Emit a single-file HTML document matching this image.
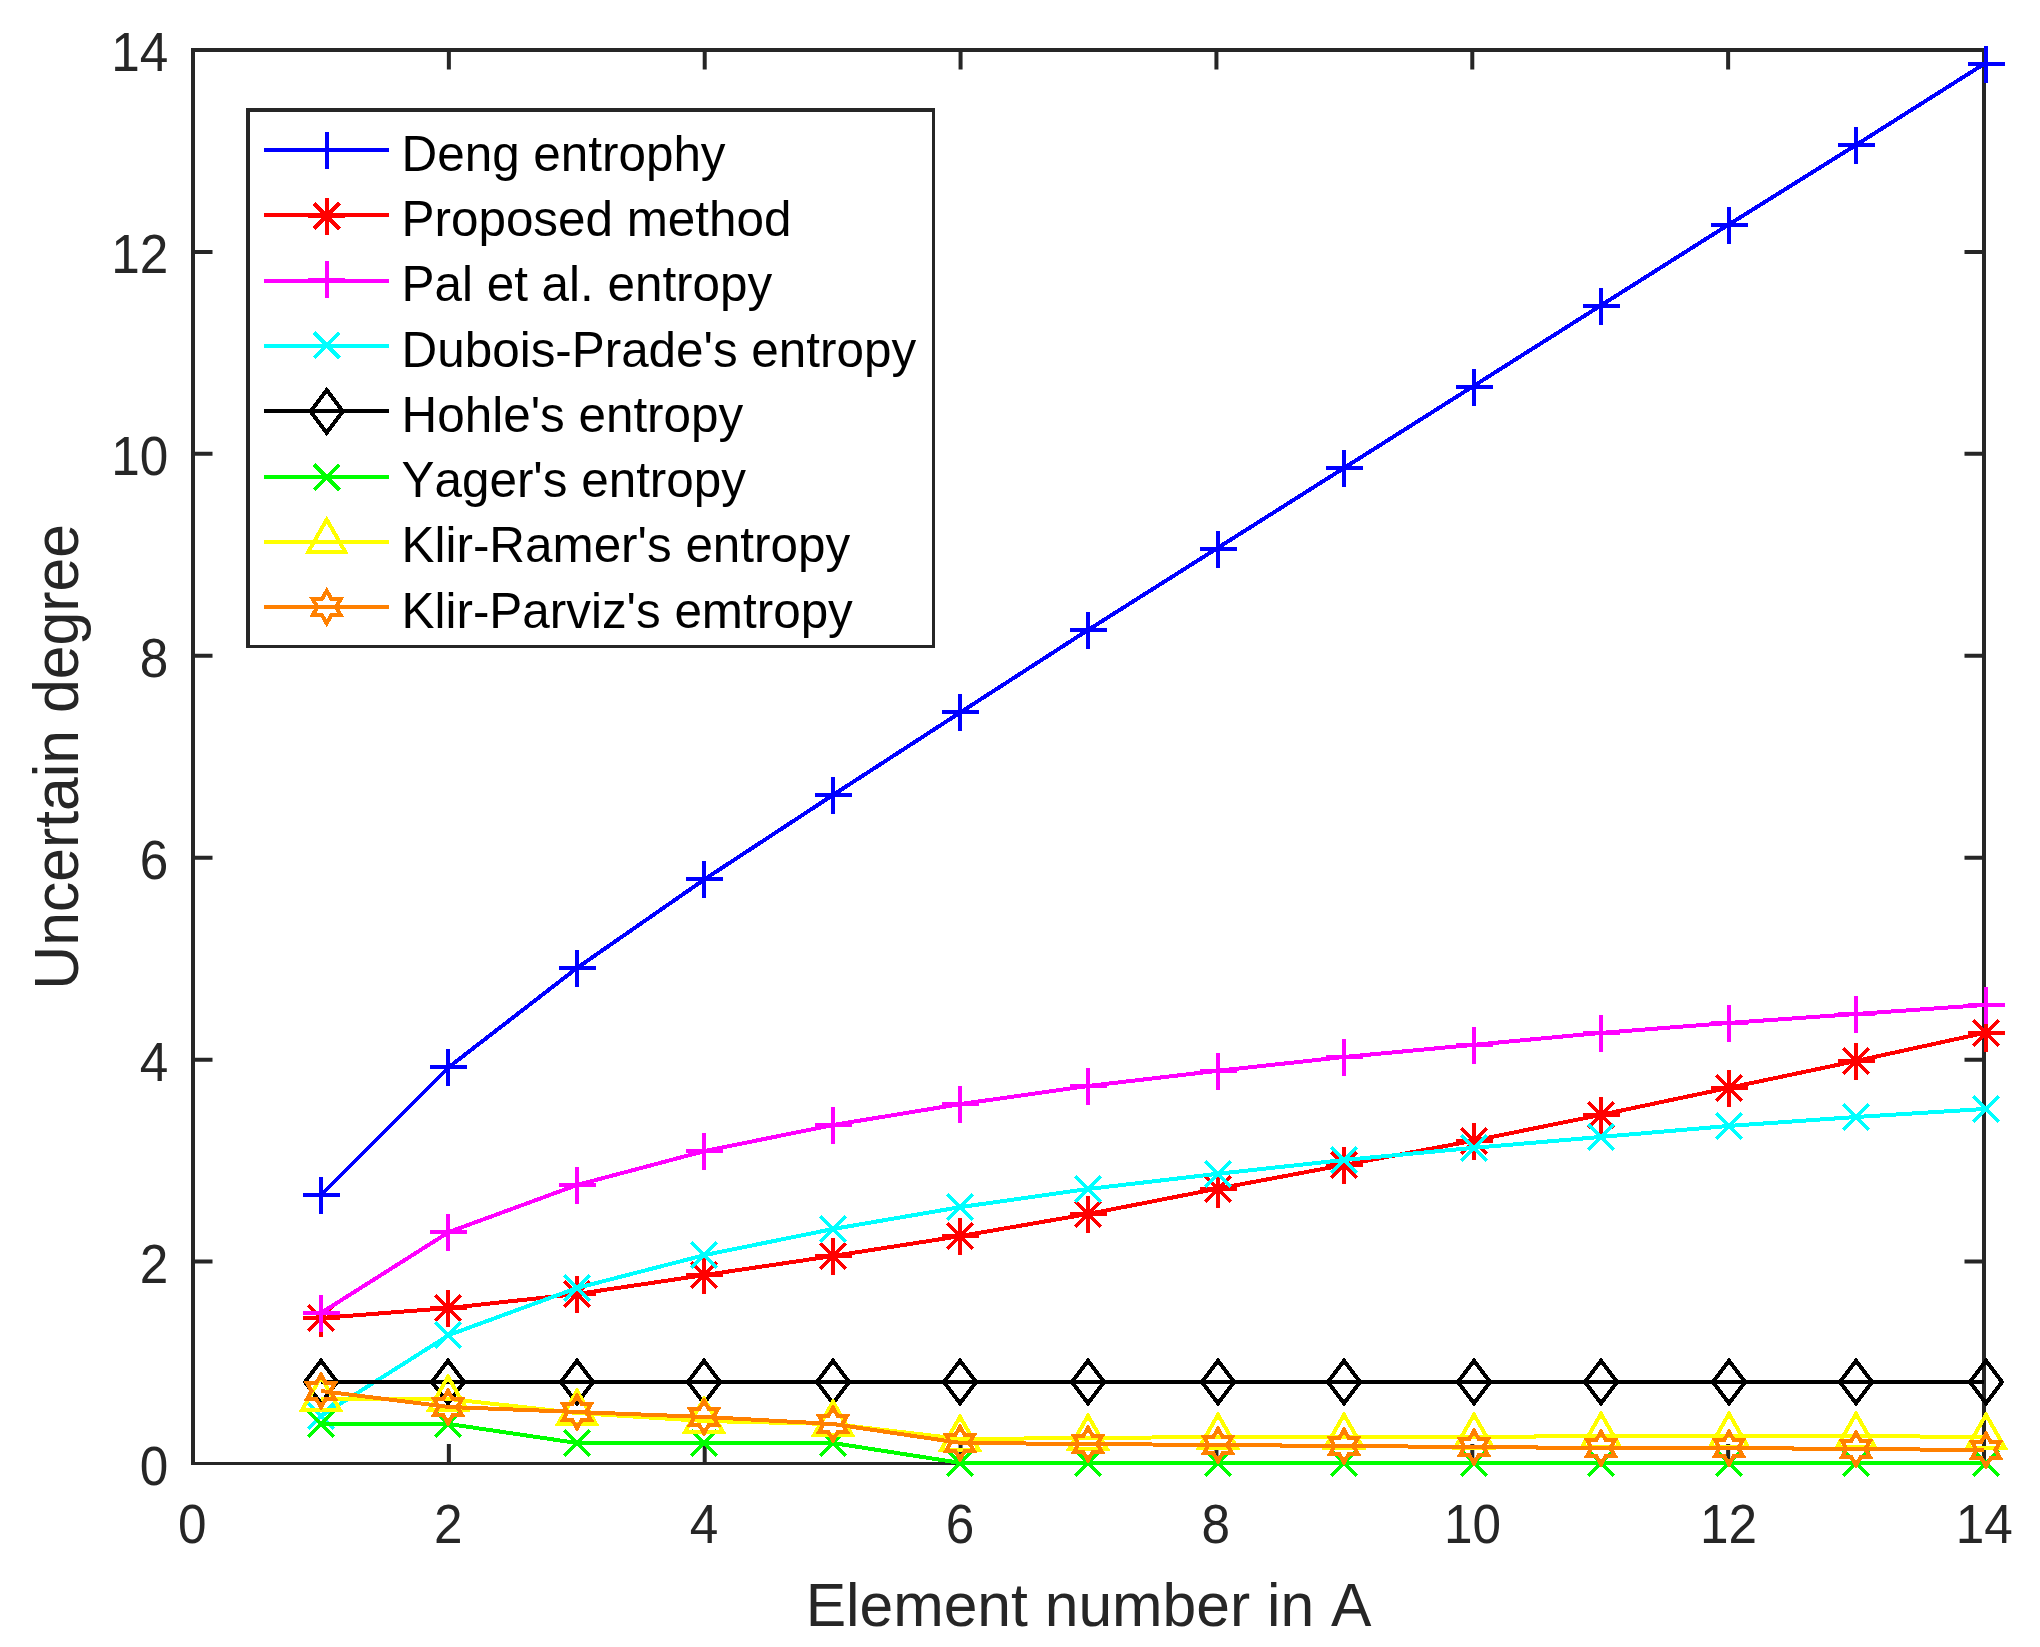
<!DOCTYPE html>
<html><head><meta charset="utf-8"><title>Uncertain degree vs element number in A</title>
<style>
html,body{margin:0;padding:0;background:#fff}
body{width:2040px;height:1647px;overflow:hidden}
svg{display:block}
text{font-family:"Liberation Sans",Arial,Helvetica,sans-serif;font-kerning:none;font-feature-settings:"kern" 0}
.tk{font-size:54px;fill:#262626}
.lb{font-size:61px;fill:#262626}
.lg{font-size:49.4px;fill:#000}
</style></head><body>
<svg width="2040" height="1647" viewBox="0 0 2040 1647">
<rect width="2040" height="1647" fill="#fff"/>
<g fill="none" stroke="#262626" stroke-width="4" stroke-linecap="butt">
<path d="M193.0 48.0V1465M1984.0 48.0V1465M191.0 50.0H1986.0"/>
<path d="M191.0 1463.5H1986.0" stroke-width="3"/>
<path d="M448.86 1463.5v-19.5M448.86 50.0v19.5M193.0 1261.57h19.5M1984.0 1261.57h-19.5M704.71 1463.5v-19.5M704.71 50.0v19.5M193.0 1059.64h19.5M1984.0 1059.64h-19.5M960.57 1463.5v-19.5M960.57 50.0v19.5M193.0 857.71h19.5M1984.0 857.71h-19.5M1216.43 1463.5v-19.5M1216.43 50.0v19.5M193.0 655.79h19.5M1984.0 655.79h-19.5M1472.29 1463.5v-19.5M1472.29 50.0v19.5M193.0 453.86h19.5M1984.0 453.86h-19.5M1728.14 1463.5v-19.5M1728.14 50.0v19.5M193.0 251.93h19.5M1984.0 251.93h-19.5"/>
</g>
<g class="tk" text-anchor="middle">
<text transform="translate(192.3 1542.5) scale(0.95 1.03)">0</text>
<text transform="translate(448.2 1542.5) scale(0.95 1.03)">2</text>
<text transform="translate(704.0 1542.5) scale(0.95 1.03)">4</text>
<text transform="translate(959.9 1542.5) scale(0.95 1.03)">6</text>
<text transform="translate(1215.7 1542.5) scale(0.95 1.03)">8</text>
<text transform="translate(1472.6 1542.5) scale(0.95 1.03)">10</text>
<text transform="translate(1728.4 1542.5) scale(0.95 1.03)">12</text>
<text transform="translate(1984.3 1542.5) scale(0.95 1.03)">14</text>
</g>
<g class="tk" text-anchor="end">
<text transform="translate(168.2 1484.7) scale(0.95 1.03)">0</text>
<text transform="translate(168.2 1282.8) scale(0.95 1.03)">2</text>
<text transform="translate(168.2 1080.8) scale(0.95 1.03)">4</text>
<text transform="translate(168.2 878.9) scale(0.95 1.03)">6</text>
<text transform="translate(168.2 677.0) scale(0.95 1.03)">8</text>
<text transform="translate(168.2 475.1) scale(0.95 1.03)">10</text>
<text transform="translate(168.2 273.1) scale(0.95 1.03)">12</text>
<text transform="translate(168.2 71.2) scale(0.95 1.03)">14</text>
</g>
<text class="lb" style="font-size:60.6px" text-anchor="middle" transform="translate(1088.5 1626.2) scale(1 1.02)">Element number in A</text>
<text class="lb" text-anchor="middle" style="font-size:60.7px" transform="translate(78.4 756.9) rotate(-90) scale(1 1.025)">Uncertain degree</text>
<g fill="none" stroke-width="4.0" stroke-linejoin="miter" stroke-miterlimit="10" shape-rendering="crispEdges">
<polyline stroke="#0000ff" stroke-linejoin="round" points="321.00,1195.00 449.00,1067.00 577.00,968.00 705.00,879.00 833.00,795.00 961.00,712.00 1088.00,630.00 1216.00,549.00 1344.00,468.00 1472.00,387.00 1600.00,306.00 1728.00,225.00 1856.00,145.00 1984.00,64.00"/>
<path d="M302.50 1195.00H339.50M321.00 1176.50V1213.50" stroke="#0000ff"/>
<path d="M429.50 1067.00H466.50M448.00 1048.50V1085.50" stroke="#0000ff"/>
<path d="M558.50 968.00H595.50M577.00 949.50V986.50" stroke="#0000ff"/>
<path d="M685.50 879.00H722.50M704.00 860.50V897.50" stroke="#0000ff"/>
<path d="M814.50 795.00H851.50M833.00 776.50V813.50" stroke="#0000ff"/>
<path d="M941.50 712.00H978.50M960.00 693.50V730.50" stroke="#0000ff"/>
<path d="M1069.50 630.00H1106.50M1088.00 611.50V648.50" stroke="#0000ff"/>
<path d="M1199.50 549.00H1236.50M1218.00 530.50V567.50" stroke="#0000ff"/>
<path d="M1325.50 468.00H1362.50M1344.00 449.50V486.50" stroke="#0000ff"/>
<path d="M1455.50 387.00H1492.50M1474.00 368.50V405.50" stroke="#0000ff"/>
<path d="M1582.50 306.00H1619.50M1601.00 287.50V324.50" stroke="#0000ff"/>
<path d="M1710.50 225.00H1747.50M1729.00 206.50V243.50" stroke="#0000ff"/>
<path d="M1837.50 145.00H1874.50M1856.00 126.50V163.50" stroke="#0000ff"/>
<path d="M1967.50 64.00H2004.50M1986.00 45.50V82.50" stroke="#0000ff"/>
</g>
<g fill="none" stroke-width="4.0" stroke-linejoin="miter" stroke-miterlimit="10" shape-rendering="crispEdges">
<polyline stroke="#ff0000" stroke-linejoin="round" points="321.00,1318.00 449.00,1308.00 577.00,1294.00 705.00,1275.00 833.00,1256.00 961.00,1236.00 1088.00,1214.00 1216.00,1189.00 1344.00,1165.00 1472.00,1141.00 1600.00,1115.00 1728.00,1088.00 1856.00,1061.00 1984.00,1033.00"/>
<path d="M302.50 1318.00H339.50M321.00 1299.50V1336.50M308.30 1305.30L333.70 1330.70M308.30 1330.70L333.70 1305.30" stroke="#ff0000"/>
<path d="M429.50 1308.00H466.50M448.00 1289.50V1326.50M435.30 1295.30L460.70 1320.70M435.30 1320.70L460.70 1295.30" stroke="#ff0000"/>
<path d="M558.50 1294.00H595.50M577.00 1275.50V1312.50M564.30 1281.30L589.70 1306.70M564.30 1306.70L589.70 1281.30" stroke="#ff0000"/>
<path d="M685.50 1275.00H722.50M704.00 1256.50V1293.50M691.30 1262.30L716.70 1287.70M691.30 1287.70L716.70 1262.30" stroke="#ff0000"/>
<path d="M814.50 1256.00H851.50M833.00 1237.50V1274.50M820.30 1243.30L845.70 1268.70M820.30 1268.70L845.70 1243.30" stroke="#ff0000"/>
<path d="M941.50 1236.00H978.50M960.00 1217.50V1254.50M947.30 1223.30L972.70 1248.70M947.30 1248.70L972.70 1223.30" stroke="#ff0000"/>
<path d="M1069.50 1214.00H1106.50M1088.00 1195.50V1232.50M1075.30 1201.30L1100.70 1226.70M1075.30 1226.70L1100.70 1201.30" stroke="#ff0000"/>
<path d="M1199.50 1189.00H1236.50M1218.00 1170.50V1207.50M1205.30 1176.30L1230.70 1201.70M1205.30 1201.70L1230.70 1176.30" stroke="#ff0000"/>
<path d="M1325.50 1165.00H1362.50M1344.00 1146.50V1183.50M1331.30 1152.30L1356.70 1177.70M1331.30 1177.70L1356.70 1152.30" stroke="#ff0000"/>
<path d="M1455.50 1141.00H1492.50M1474.00 1122.50V1159.50M1461.30 1128.30L1486.70 1153.70M1461.30 1153.70L1486.70 1128.30" stroke="#ff0000"/>
<path d="M1582.50 1115.00H1619.50M1601.00 1096.50V1133.50M1588.30 1102.30L1613.70 1127.70M1588.30 1127.70L1613.70 1102.30" stroke="#ff0000"/>
<path d="M1710.50 1088.00H1747.50M1729.00 1069.50V1106.50M1716.30 1075.30L1741.70 1100.70M1716.30 1100.70L1741.70 1075.30" stroke="#ff0000"/>
<path d="M1837.50 1061.00H1874.50M1856.00 1042.50V1079.50M1843.30 1048.30L1868.70 1073.70M1843.30 1073.70L1868.70 1048.30" stroke="#ff0000"/>
<path d="M1967.50 1033.00H2004.50M1986.00 1014.50V1051.50M1973.30 1020.30L1998.70 1045.70M1973.30 1045.70L1998.70 1020.30" stroke="#ff0000"/>
</g>
<g fill="none" stroke-width="4.0" stroke-linejoin="miter" stroke-miterlimit="10" shape-rendering="crispEdges">
<polyline stroke="#ff00ff" stroke-linejoin="round" points="321.00,1313.00 449.00,1232.00 577.00,1185.00 705.00,1151.00 833.00,1125.00 961.00,1104.00 1088.00,1086.00 1216.00,1071.00 1344.00,1057.00 1472.00,1045.00 1600.00,1033.00 1728.00,1023.00 1856.00,1014.00 1984.00,1005.00"/>
<path d="M302.50 1313.00H339.50M321.00 1294.50V1331.50" stroke="#ff00ff"/>
<path d="M429.50 1232.00H466.50M448.00 1213.50V1250.50" stroke="#ff00ff"/>
<path d="M558.50 1185.00H595.50M577.00 1166.50V1203.50" stroke="#ff00ff"/>
<path d="M685.50 1151.00H722.50M704.00 1132.50V1169.50" stroke="#ff00ff"/>
<path d="M814.50 1125.00H851.50M833.00 1106.50V1143.50" stroke="#ff00ff"/>
<path d="M941.50 1104.00H978.50M960.00 1085.50V1122.50" stroke="#ff00ff"/>
<path d="M1069.50 1086.00H1106.50M1088.00 1067.50V1104.50" stroke="#ff00ff"/>
<path d="M1199.50 1071.00H1236.50M1218.00 1052.50V1089.50" stroke="#ff00ff"/>
<path d="M1325.50 1057.00H1362.50M1344.00 1038.50V1075.50" stroke="#ff00ff"/>
<path d="M1455.50 1045.00H1492.50M1474.00 1026.50V1063.50" stroke="#ff00ff"/>
<path d="M1582.50 1033.00H1619.50M1601.00 1014.50V1051.50" stroke="#ff00ff"/>
<path d="M1710.50 1023.00H1747.50M1729.00 1004.50V1041.50" stroke="#ff00ff"/>
<path d="M1837.50 1014.00H1874.50M1856.00 995.50V1032.50" stroke="#ff00ff"/>
<path d="M1967.50 1005.00H2004.50M1986.00 986.50V1023.50" stroke="#ff00ff"/>
</g>
<g fill="none" stroke-width="4.0" stroke-linejoin="miter" stroke-miterlimit="10" shape-rendering="crispEdges">
<polyline stroke="#00ffff" stroke-linejoin="round" points="321.00,1416.00 449.00,1335.00 577.00,1288.00 705.00,1255.00 833.00,1229.00 961.00,1207.00 1088.00,1189.00 1216.00,1174.00 1344.00,1160.00 1472.00,1148.00 1600.00,1137.00 1728.00,1126.00 1856.00,1117.00 1984.00,1109.00"/>
<path d="M308.30 1403.30L333.70 1428.70M308.30 1428.70L333.70 1403.30" stroke="#00ffff"/>
<path d="M435.30 1322.30L460.70 1347.70M435.30 1347.70L460.70 1322.30" stroke="#00ffff"/>
<path d="M564.30 1275.30L589.70 1300.70M564.30 1300.70L589.70 1275.30" stroke="#00ffff"/>
<path d="M691.30 1242.30L716.70 1267.70M691.30 1267.70L716.70 1242.30" stroke="#00ffff"/>
<path d="M820.30 1216.30L845.70 1241.70M820.30 1241.70L845.70 1216.30" stroke="#00ffff"/>
<path d="M947.30 1194.30L972.70 1219.70M947.30 1219.70L972.70 1194.30" stroke="#00ffff"/>
<path d="M1075.30 1176.30L1100.70 1201.70M1075.30 1201.70L1100.70 1176.30" stroke="#00ffff"/>
<path d="M1205.30 1161.30L1230.70 1186.70M1205.30 1186.70L1230.70 1161.30" stroke="#00ffff"/>
<path d="M1331.30 1147.30L1356.70 1172.70M1331.30 1172.70L1356.70 1147.30" stroke="#00ffff"/>
<path d="M1461.30 1135.30L1486.70 1160.70M1461.30 1160.70L1486.70 1135.30" stroke="#00ffff"/>
<path d="M1588.30 1124.30L1613.70 1149.70M1588.30 1149.70L1613.70 1124.30" stroke="#00ffff"/>
<path d="M1716.30 1113.30L1741.70 1138.70M1716.30 1138.70L1741.70 1113.30" stroke="#00ffff"/>
<path d="M1843.30 1104.30L1868.70 1129.70M1843.30 1129.70L1868.70 1104.30" stroke="#00ffff"/>
<path d="M1973.30 1096.30L1998.70 1121.70M1973.30 1121.70L1998.70 1096.30" stroke="#00ffff"/>
</g>
<g fill="none" stroke-width="4.0" stroke-linejoin="miter" stroke-miterlimit="10" shape-rendering="crispEdges">
<polyline stroke="#000000" stroke-linejoin="round" points="321.00,1382.00 449.00,1382.00 577.00,1382.00 705.00,1382.00 833.00,1382.00 961.00,1382.00 1088.00,1382.00 1216.00,1382.00 1344.00,1382.00 1472.00,1382.00 1600.00,1382.00 1728.00,1382.00 1856.00,1382.00 1984.00,1382.00"/>
<path d="M321.00 1360.60L337.10 1382.00L321.00 1403.40L304.90 1382.00Z" stroke="#000000"/>
<path d="M448.00 1360.60L464.10 1382.00L448.00 1403.40L431.90 1382.00Z" stroke="#000000"/>
<path d="M577.00 1360.60L593.10 1382.00L577.00 1403.40L560.90 1382.00Z" stroke="#000000"/>
<path d="M704.00 1360.60L720.10 1382.00L704.00 1403.40L687.90 1382.00Z" stroke="#000000"/>
<path d="M833.00 1360.60L849.10 1382.00L833.00 1403.40L816.90 1382.00Z" stroke="#000000"/>
<path d="M960.00 1360.60L976.10 1382.00L960.00 1403.40L943.90 1382.00Z" stroke="#000000"/>
<path d="M1088.00 1360.60L1104.10 1382.00L1088.00 1403.40L1071.90 1382.00Z" stroke="#000000"/>
<path d="M1218.00 1360.60L1234.10 1382.00L1218.00 1403.40L1201.90 1382.00Z" stroke="#000000"/>
<path d="M1344.00 1360.60L1360.10 1382.00L1344.00 1403.40L1327.90 1382.00Z" stroke="#000000"/>
<path d="M1474.00 1360.60L1490.10 1382.00L1474.00 1403.40L1457.90 1382.00Z" stroke="#000000"/>
<path d="M1601.00 1360.60L1617.10 1382.00L1601.00 1403.40L1584.90 1382.00Z" stroke="#000000"/>
<path d="M1729.00 1360.60L1745.10 1382.00L1729.00 1403.40L1712.90 1382.00Z" stroke="#000000"/>
<path d="M1856.00 1360.60L1872.10 1382.00L1856.00 1403.40L1839.90 1382.00Z" stroke="#000000"/>
<path d="M1986.00 1360.60L2002.10 1382.00L1986.00 1403.40L1969.90 1382.00Z" stroke="#000000"/>
</g>
<g fill="none" stroke-width="4.0" stroke-linejoin="miter" stroke-miterlimit="10" shape-rendering="crispEdges">
<polyline stroke="#00ff00" stroke-linejoin="round" points="321.00,1424.00 449.00,1424.00 577.00,1443.00 705.00,1443.00 833.00,1443.00 961.00,1463.00 1088.00,1463.00 1216.00,1463.00 1344.00,1463.00 1472.00,1463.00 1600.00,1463.00 1728.00,1463.00 1856.00,1463.00 1984.00,1463.00"/>
<path d="M308.30 1411.30L333.70 1436.70M308.30 1436.70L333.70 1411.30" stroke="#00ff00"/>
<path d="M435.30 1411.30L460.70 1436.70M435.30 1436.70L460.70 1411.30" stroke="#00ff00"/>
<path d="M564.30 1430.30L589.70 1455.70M564.30 1455.70L589.70 1430.30" stroke="#00ff00"/>
<path d="M691.30 1430.30L716.70 1455.70M691.30 1455.70L716.70 1430.30" stroke="#00ff00"/>
<path d="M820.30 1430.30L845.70 1455.70M820.30 1455.70L845.70 1430.30" stroke="#00ff00"/>
<path d="M947.30 1450.30L972.70 1475.70M947.30 1475.70L972.70 1450.30" stroke="#00ff00"/>
<path d="M1075.30 1450.30L1100.70 1475.70M1075.30 1475.70L1100.70 1450.30" stroke="#00ff00"/>
<path d="M1205.30 1450.30L1230.70 1475.70M1205.30 1475.70L1230.70 1450.30" stroke="#00ff00"/>
<path d="M1331.30 1450.30L1356.70 1475.70M1331.30 1475.70L1356.70 1450.30" stroke="#00ff00"/>
<path d="M1461.30 1450.30L1486.70 1475.70M1461.30 1475.70L1486.70 1450.30" stroke="#00ff00"/>
<path d="M1588.30 1450.30L1613.70 1475.70M1588.30 1475.70L1613.70 1450.30" stroke="#00ff00"/>
<path d="M1716.30 1450.30L1741.70 1475.70M1716.30 1475.70L1741.70 1450.30" stroke="#00ff00"/>
<path d="M1843.30 1450.30L1868.70 1475.70M1843.30 1475.70L1868.70 1450.30" stroke="#00ff00"/>
<path d="M1973.30 1450.30L1998.70 1475.70M1973.30 1475.70L1998.70 1450.30" stroke="#00ff00"/>
</g>
<g fill="none" stroke-width="4.0" stroke-linejoin="miter" stroke-miterlimit="10" shape-rendering="crispEdges">
<polyline stroke="#ffff00" stroke-linejoin="round" points="321.00,1399.00 449.00,1399.00 577.00,1413.00 705.00,1421.00 833.00,1424.00 961.00,1439.00 1088.00,1438.00 1216.00,1437.00 1344.00,1437.00 1472.00,1437.00 1600.00,1436.00 1728.00,1436.00 1856.00,1436.00 1984.00,1437.00"/>
<path d="M321.00 1376.70L339.80 1409.60L302.20 1409.60Z" stroke="#ffff00"/>
<path d="M448.00 1376.70L466.80 1409.60L429.20 1409.60Z" stroke="#ffff00"/>
<path d="M577.00 1390.70L595.80 1423.60L558.20 1423.60Z" stroke="#ffff00"/>
<path d="M704.00 1398.70L722.80 1431.60L685.20 1431.60Z" stroke="#ffff00"/>
<path d="M833.00 1401.70L851.80 1434.60L814.20 1434.60Z" stroke="#ffff00"/>
<path d="M960.00 1416.70L978.80 1449.60L941.20 1449.60Z" stroke="#ffff00"/>
<path d="M1088.00 1415.70L1106.80 1448.60L1069.20 1448.60Z" stroke="#ffff00"/>
<path d="M1218.00 1414.70L1236.80 1447.60L1199.20 1447.60Z" stroke="#ffff00"/>
<path d="M1344.00 1414.70L1362.80 1447.60L1325.20 1447.60Z" stroke="#ffff00"/>
<path d="M1474.00 1414.70L1492.80 1447.60L1455.20 1447.60Z" stroke="#ffff00"/>
<path d="M1601.00 1413.70L1619.80 1446.60L1582.20 1446.60Z" stroke="#ffff00"/>
<path d="M1729.00 1413.70L1747.80 1446.60L1710.20 1446.60Z" stroke="#ffff00"/>
<path d="M1856.00 1413.70L1874.80 1446.60L1837.20 1446.60Z" stroke="#ffff00"/>
<path d="M1986.00 1414.70L2004.80 1447.60L1967.20 1447.60Z" stroke="#ffff00"/>
</g>
<g fill="none" stroke-width="4.0" stroke-linejoin="miter" stroke-miterlimit="10" shape-rendering="crispEdges">
<polyline stroke="#ff8000" stroke-linejoin="round" points="321.00,1391.00 449.00,1407.00 577.00,1412.00 705.00,1417.00 833.00,1424.00 961.00,1443.00 1088.00,1444.00 1216.00,1445.00 1344.00,1446.00 1472.00,1447.00 1600.00,1448.00 1728.00,1448.00 1856.00,1449.00 1984.00,1450.00"/>
<path d="M321.00 1374.80L325.68 1382.90L335.03 1382.90L330.35 1391.00L335.03 1399.10L325.68 1399.10L321.00 1407.20L316.32 1399.10L306.97 1399.10L311.65 1391.00L306.97 1382.90L316.32 1382.90Z" stroke="#ff8000"/>
<path d="M448.00 1390.80L452.68 1398.90L462.03 1398.90L457.35 1407.00L462.03 1415.10L452.68 1415.10L448.00 1423.20L443.32 1415.10L433.97 1415.10L438.65 1407.00L433.97 1398.90L443.32 1398.90Z" stroke="#ff8000"/>
<path d="M577.00 1395.80L581.68 1403.90L591.03 1403.90L586.35 1412.00L591.03 1420.10L581.68 1420.10L577.00 1428.20L572.32 1420.10L562.97 1420.10L567.65 1412.00L562.97 1403.90L572.32 1403.90Z" stroke="#ff8000"/>
<path d="M704.00 1400.80L708.68 1408.90L718.03 1408.90L713.35 1417.00L718.03 1425.10L708.68 1425.10L704.00 1433.20L699.32 1425.10L689.97 1425.10L694.65 1417.00L689.97 1408.90L699.32 1408.90Z" stroke="#ff8000"/>
<path d="M833.00 1407.80L837.68 1415.90L847.03 1415.90L842.35 1424.00L847.03 1432.10L837.68 1432.10L833.00 1440.20L828.32 1432.10L818.97 1432.10L823.65 1424.00L818.97 1415.90L828.32 1415.90Z" stroke="#ff8000"/>
<path d="M960.00 1426.80L964.68 1434.90L974.03 1434.90L969.35 1443.00L974.03 1451.10L964.68 1451.10L960.00 1459.20L955.32 1451.10L945.97 1451.10L950.65 1443.00L945.97 1434.90L955.32 1434.90Z" stroke="#ff8000"/>
<path d="M1088.00 1427.80L1092.68 1435.90L1102.03 1435.90L1097.35 1444.00L1102.03 1452.10L1092.68 1452.10L1088.00 1460.20L1083.32 1452.10L1073.97 1452.10L1078.65 1444.00L1073.97 1435.90L1083.32 1435.90Z" stroke="#ff8000"/>
<path d="M1218.00 1428.80L1222.68 1436.90L1232.03 1436.90L1227.35 1445.00L1232.03 1453.10L1222.68 1453.10L1218.00 1461.20L1213.32 1453.10L1203.97 1453.10L1208.65 1445.00L1203.97 1436.90L1213.32 1436.90Z" stroke="#ff8000"/>
<path d="M1344.00 1429.80L1348.68 1437.90L1358.03 1437.90L1353.35 1446.00L1358.03 1454.10L1348.68 1454.10L1344.00 1462.20L1339.32 1454.10L1329.97 1454.10L1334.65 1446.00L1329.97 1437.90L1339.32 1437.90Z" stroke="#ff8000"/>
<path d="M1474.00 1430.80L1478.68 1438.90L1488.03 1438.90L1483.35 1447.00L1488.03 1455.10L1478.68 1455.10L1474.00 1463.20L1469.32 1455.10L1459.97 1455.10L1464.65 1447.00L1459.97 1438.90L1469.32 1438.90Z" stroke="#ff8000"/>
<path d="M1601.00 1431.80L1605.68 1439.90L1615.03 1439.90L1610.35 1448.00L1615.03 1456.10L1605.68 1456.10L1601.00 1464.20L1596.32 1456.10L1586.97 1456.10L1591.65 1448.00L1586.97 1439.90L1596.32 1439.90Z" stroke="#ff8000"/>
<path d="M1729.00 1431.80L1733.68 1439.90L1743.03 1439.90L1738.35 1448.00L1743.03 1456.10L1733.68 1456.10L1729.00 1464.20L1724.32 1456.10L1714.97 1456.10L1719.65 1448.00L1714.97 1439.90L1724.32 1439.90Z" stroke="#ff8000"/>
<path d="M1856.00 1432.80L1860.68 1440.90L1870.03 1440.90L1865.35 1449.00L1870.03 1457.10L1860.68 1457.10L1856.00 1465.20L1851.32 1457.10L1841.97 1457.10L1846.65 1449.00L1841.97 1440.90L1851.32 1440.90Z" stroke="#ff8000"/>
<path d="M1986.00 1433.80L1990.68 1441.90L2000.03 1441.90L1995.35 1450.00L2000.03 1458.10L1990.68 1458.10L1986.00 1466.20L1981.32 1458.10L1971.97 1458.10L1976.65 1450.00L1971.97 1441.90L1981.32 1441.90Z" stroke="#ff8000"/>
</g>
<rect x="246" y="108" width="689" height="540" fill="#fff"/>
<path d="M248 108V648M246 110H935" fill="none" stroke="#262626" stroke-width="4"/>
<path d="M933.5 108V648M246 646.5H935" fill="none" stroke="#262626" stroke-width="3"/>
<g fill="none" stroke-width="4.0" stroke-miterlimit="10" shape-rendering="crispEdges">
<path d="M264 150.00H389" stroke="#0000ff"/>
<path d="M308.20 150.00H345.20M326.70 131.50V168.50" stroke="#0000ff"/>
</g>
<text class="lg" transform="translate(401.6 170.6) scale(1 1.028)">Deng entrophy</text>
<g fill="none" stroke-width="4.0" stroke-miterlimit="10" shape-rendering="crispEdges">
<path d="M264 215.30H389" stroke="#ff0000"/>
<path d="M308.20 216.00H345.20M326.70 197.50V234.50M314.00 203.30L339.40 228.70M314.00 228.70L339.40 203.30" stroke="#ff0000"/>
</g>
<text class="lg" transform="translate(401.6 235.9) scale(1 1.028)">Proposed method</text>
<g fill="none" stroke-width="4.0" stroke-miterlimit="10" shape-rendering="crispEdges">
<path d="M264 280.60H389" stroke="#ff00ff"/>
<path d="M308.20 279.50H345.20M326.70 261.00V298.00" stroke="#ff00ff"/>
</g>
<text class="lg" transform="translate(401.6 301.2) scale(1 1.028)">Pal et al. entropy</text>
<g fill="none" stroke-width="4.0" stroke-miterlimit="10" shape-rendering="crispEdges">
<path d="M264 345.90H389" stroke="#00ffff"/>
<path d="M314.00 332.60L339.40 358.00M314.00 358.00L339.40 332.60" stroke="#00ffff"/>
</g>
<text class="lg" transform="translate(401.6 366.5) scale(1 1.028)">Dubois-Prade's entropy</text>
<g fill="none" stroke-width="4.0" stroke-miterlimit="10" shape-rendering="crispEdges">
<path d="M264 411.20H389" stroke="#000000"/>
<path d="M326.70 390.00L342.80 411.40L326.70 432.80L310.60 411.40Z" stroke="#000000"/>
</g>
<text class="lg" transform="translate(401.6 431.8) scale(1 1.028)">Hohle's entropy</text>
<g fill="none" stroke-width="4.0" stroke-miterlimit="10" shape-rendering="crispEdges">
<path d="M264 476.50H389" stroke="#00ff00"/>
<path d="M314.00 464.60L339.40 490.00M314.00 490.00L339.40 464.60" stroke="#00ff00"/>
</g>
<text class="lg" transform="translate(401.6 497.1) scale(1 1.028)">Yager's entropy</text>
<g fill="none" stroke-width="4.0" stroke-miterlimit="10" shape-rendering="crispEdges">
<path d="M264 541.80H389" stroke="#ffff00"/>
<path d="M326.70 519.50L345.50 552.40L307.90 552.40Z" stroke="#ffff00"/>
</g>
<text class="lg" transform="translate(401.6 562.4) scale(1 1.028)">Klir-Ramer's entropy</text>
<g fill="none" stroke-width="4.0" stroke-miterlimit="10" shape-rendering="crispEdges">
<path d="M264 607.10H389" stroke="#ff8000"/>
<path d="M326.70 590.90L331.38 599.00L340.73 599.00L336.05 607.10L340.73 615.20L331.38 615.20L326.70 623.30L322.02 615.20L312.67 615.20L317.35 607.10L312.67 599.00L322.02 599.00Z" stroke="#ff8000"/>
</g>
<text class="lg" transform="translate(401.6 627.7) scale(1 1.028)">Klir-Parviz's emtropy</text>
</svg></body></html>
